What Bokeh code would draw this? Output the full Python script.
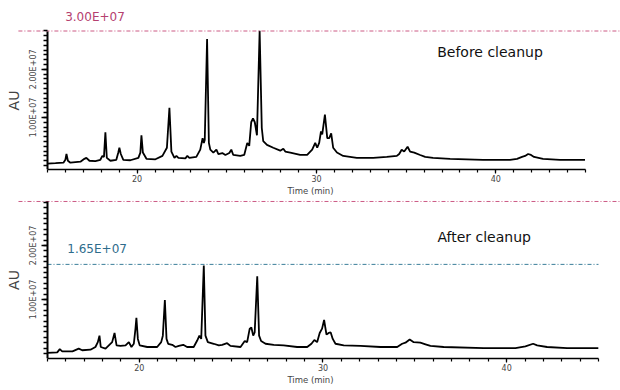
from bokeh.plotting import figure
from bokeh.layouts import column
from bokeh.models import Label, FixedTicker, Range1d
from bokeh.embed import file_html
from bokeh.resources import INLINE

# ---------------- data ----------------
before_time = [15.00, 15.45, 15.89, 16.00, 16.06, 16.14, 16.28, 16.84, 17.06, 17.17,
               17.34, 17.67, 17.95, 18.06, 18.15, 18.23, 18.31, 18.51, 18.84, 18.95,
               19.01, 19.09, 19.23, 19.62, 20.07, 20.18, 20.24, 20.32, 20.52, 21.02,
               21.41, 21.66, 21.80, 21.91, 22.08, 22.19, 22.30, 22.69, 22.80, 22.91,
               23.30, 23.52, 23.65, 23.72, 23.77, 23.90, 24.00, 24.08, 24.25, 24.42,
               24.53, 24.75, 24.92, 25.14, 25.25, 25.36, 25.75, 25.97, 26.14, 26.25,
               26.36, 26.46, 26.56, 26.68, 26.83, 26.95, 27.03, 27.24, 27.59, 27.98,
               28.15, 28.26, 28.54, 29.09, 29.48, 29.76, 29.93, 30.04, 30.15, 30.25,
               30.32, 30.47, 30.60, 30.71, 30.82, 30.93, 31.14, 31.49, 32.25, 33.16,
               33.92, 34.48, 34.61, 34.75, 34.89, 35.08, 35.22, 35.45, 35.78, 36.06,
               36.50, 37.45, 39.29, 40.79, 41.18, 41.46, 41.63, 41.80, 41.96, 42.13,
               42.63, 43.58, 44.97]
before_au = [0.04e7, 0.05e7, 0.06e7, 0.12e7, 0.24e7, 0.10e7, 0.06e7, 0.08e7, 0.14e7, 0.16e7,
             0.10e7, 0.09e7, 0.12e7, 0.20e7, 0.18e7, 0.69e7, 0.16e7, 0.10e7, 0.12e7, 0.27e7,
             0.37e7, 0.24e7, 0.12e7, 0.11e7, 0.16e7, 0.27e7, 0.63e7, 0.27e7, 0.14e7, 0.13e7,
             0.20e7, 0.37e7, 1.20e7, 0.29e7, 0.16e7, 0.20e7, 0.16e7, 0.15e7, 0.20e7, 0.16e7,
             0.18e7, 0.33e7, 0.57e7, 0.47e7, 0.53e7, 2.63e7, 0.47e7, 0.33e7, 0.27e7, 0.33e7,
             0.24e7, 0.26e7, 0.22e7, 0.26e7, 0.33e7, 0.22e7, 0.20e7, 0.22e7, 0.47e7, 0.41e7,
             0.90e7, 0.98e7, 0.90e7, 0.63e7, 2.80e7, 0.78e7, 0.51e7, 0.43e7, 0.37e7, 0.31e7,
             0.35e7, 0.29e7, 0.27e7, 0.22e7, 0.22e7, 0.33e7, 0.47e7, 0.37e7, 0.47e7, 0.71e7,
             0.65e7, 1.06e7, 0.57e7, 0.57e7, 0.67e7, 0.37e7, 0.27e7, 0.20e7, 0.16e7, 0.16e7,
             0.18e7, 0.20e7, 0.24e7, 0.33e7, 0.29e7, 0.39e7, 0.29e7, 0.27e7, 0.22e7, 0.18e7,
             0.16e7, 0.14e7, 0.12e7, 0.12e7, 0.14e7, 0.18e7, 0.20e7, 0.24e7, 0.22e7, 0.18e7,
             0.14e7, 0.12e7, 0.12e7]

after_time = [15.00, 15.53, 15.67, 15.80, 16.36, 16.70, 16.89, 17.34, 17.61, 17.74,
              17.83, 17.90, 18.16, 18.34, 18.52, 18.65, 18.76, 18.97, 19.25, 19.43,
              19.57, 19.70, 19.79, 19.84, 19.92, 20.02, 20.43, 20.97, 21.19, 21.28,
              21.39, 21.48, 21.57, 21.79, 21.97, 22.15, 22.39, 22.60, 22.96, 23.15,
              23.27, 23.37, 23.51, 23.60, 23.73, 24.05, 24.33, 24.51, 24.78, 24.96,
              25.51, 25.74, 25.87, 26.01, 26.10, 26.20, 26.28, 26.42, 26.52, 26.63,
              26.87, 27.32, 27.86, 28.59, 29.14, 29.37, 29.53, 29.68, 29.82, 29.95,
              30.06, 30.19, 30.31, 30.42, 30.53, 30.68, 31.13, 32.04, 33.13, 34.04,
              34.31, 34.49, 34.72, 34.94, 35.30, 35.58, 35.85, 36.57, 38.75, 40.48,
              41.02, 41.44, 41.66, 42.20, 43.29, 44.99]
after_au = [0.01e7, 0.02e7, 0.08e7, 0.04e7, 0.04e7, 0.09e7, 0.06e7, 0.07e7, 0.12e7, 0.21e7,
            0.33e7, 0.12e7, 0.09e7, 0.15e7, 0.21e7, 0.38e7, 0.15e7, 0.14e7, 0.15e7, 0.21e7,
            0.12e7, 0.18e7, 0.46e7, 0.66e7, 0.27e7, 0.15e7, 0.12e7, 0.12e7, 0.21e7, 0.33e7,
            0.99e7, 0.27e7, 0.18e7, 0.16e7, 0.12e7, 0.14e7, 0.16e7, 0.12e7, 0.12e7, 0.24e7,
            0.33e7, 0.27e7, 1.63e7, 0.33e7, 0.21e7, 0.18e7, 0.15e7, 0.16e7, 0.19e7, 0.14e7,
            0.12e7, 0.23e7, 0.21e7, 0.46e7, 0.48e7, 0.33e7, 0.39e7, 1.43e7, 0.33e7, 0.23e7,
            0.18e7, 0.16e7, 0.15e7, 0.12e7, 0.12e7, 0.18e7, 0.25e7, 0.21e7, 0.38e7, 0.46e7,
            0.62e7, 0.35e7, 0.38e7, 0.39e7, 0.27e7, 0.18e7, 0.15e7, 0.14e7, 0.12e7, 0.12e7,
            0.18e7, 0.20e7, 0.26e7, 0.21e7, 0.20e7, 0.17e7, 0.14e7, 0.12e7, 0.10e7, 0.10e7,
            0.13e7, 0.18e7, 0.15e7, 0.12e7, 0.10e7, 0.10e7]

x_major_ticks = [20, 30, 40]
x_minor_ticks = list(range(15, 46))
y_major_ticks = [1.0e7, 2.0e7]
y_major_labels = ["1.00E+07", "2.00E+07"]
y_minor_ticks = [k * 1.0e6 for k in range(0, 29)]

time_span = (15, 45)
ref_top_text = "3.00E+07"
ref_after_value = 1.65e7
ref_after_text = "1.65E+07"

FONT = "DejaVu Sans"
RED_TXT = "#b5406f"
RED_LINE = "#cc5a84"
BLUE_TXT = "#2e6c8c"
BLUE_LINE = "#3a7e99"


def make_panel(t, au, height, x_rng, y_rng, axis_top, bottom_border, title_text, title_xy):
    p = figure(width=620, height=height, output_backend="svg", toolbar_location=None,
               x_range=Range1d(*x_rng), y_range=Range1d(*y_rng),
               min_border_left=0, min_border_right=0,
               min_border_top=0, min_border_bottom=bottom_border)
    p.outline_line_color = None
    p.grid.visible = False
    p.background_fill_color = "white"
    p.border_fill_color = "white"

    p.line(t, au, line_color="black", line_width=1.8)

    xa = p.xaxis[0]
    xa.bounds = time_span
    xa.ticker = FixedTicker(ticks=x_major_ticks, minor_ticks=x_minor_ticks)
    xa.axis_label = "Time (min)"
    xa.axis_label_text_font = FONT
    xa.axis_label_text_font_size = "8.5px"
    xa.axis_label_text_font_style = "normal"
    xa.axis_label_standoff = 1
    xa.major_label_text_font = FONT
    xa.major_label_text_font_size = "8px"
    xa.major_label_standoff = 1
    xa.major_tick_in = 0
    xa.major_tick_out = 4
    xa.minor_tick_in = 0
    xa.minor_tick_out = 3
    xa.axis_line_width = 1.5
    xa.major_tick_line_width = 1.2
    xa.minor_tick_line_width = 1.2

    ya = p.yaxis[0]
    ya.fixed_location = time_span[0]
    ya.bounds = (y_rng[0], axis_top)
    ya.ticker = FixedTicker(ticks=y_major_ticks, minor_ticks=y_minor_ticks)
    ya.major_label_overrides = {v: s for v, s in zip(y_major_ticks, y_major_labels)}
    ya.major_label_orientation = "vertical"
    ya.major_label_text_font = FONT
    ya.major_label_text_font_size = "8px"
    ya.major_label_standoff = 3
    ya.axis_label = "AU"
    ya.axis_label_text_font = FONT
    ya.axis_label_text_font_size = "14px"
    ya.axis_label_text_font_style = "normal"
    ya.axis_label_standoff = 5
    ya.major_tick_in = 0
    ya.major_tick_out = 6
    ya.minor_tick_in = 0
    ya.minor_tick_out = 4
    ya.axis_line_width = 2
    ya.major_tick_line_width = 1.5
    ya.minor_tick_line_width = 1.5

    p.add_layout(Label(x=title_xy[0], y=title_xy[1], text=title_text, text_font=FONT,
                       text_font_size="14px", text_color="#111111", text_baseline="middle",
                       text_align="left"))
    return p


# top panel: before cleanup (frame spans the whole width; axes bounded to 15-45 min)
top_axis_end = 2.796e7
p1 = make_panel(before_time, before_au, 198, (12.382, 46.95), (-0.082e7, 3.43e7),
                top_axis_end, 26, "Before cleanup", (36.73, 2.37e7))
p1.segment(x0=13.38, x1=46.95, y0=top_axis_end, y1=top_axis_end,
           line_color=RED_LINE, line_width=1, line_dash="4 2 1 2")
p1.add_layout(Label(x=17.65, y=top_axis_end, y_offset=14, text=ref_top_text, text_font=FONT,
                    text_font_size="12px", text_color=RED_TXT, text_baseline="middle",
                    text_align="center"))

# bottom panel: after cleanup
bottom_axis_end = 2.815e7
p2 = make_panel(after_time, after_au, 192, (12.441, 46.198), (-0.093e7, 2.870e7),
                bottom_axis_end, 32, "After cleanup", (36.23, 2.15e7))
p2.segment(x0=13.42, x1=46.198, y0=bottom_axis_end, y1=bottom_axis_end,
           line_color=RED_LINE, line_width=1, line_dash="4 2 1 2")
p2.segment(x0=time_span[0], x1=time_span[1], y0=ref_after_value, y1=ref_after_value,
           line_color=BLUE_LINE, line_width=1, line_dash="4 2 1 2")
p2.add_layout(Label(x=17.70, y=ref_after_value, y_offset=15, text=ref_after_text,
                    text_font=FONT, text_font_size="12px", text_color=BLUE_TXT,
                    text_baseline="middle", text_align="center"))

layout = column(p1, p2)
open("out.html", "w").write(file_html(layout, INLINE))
